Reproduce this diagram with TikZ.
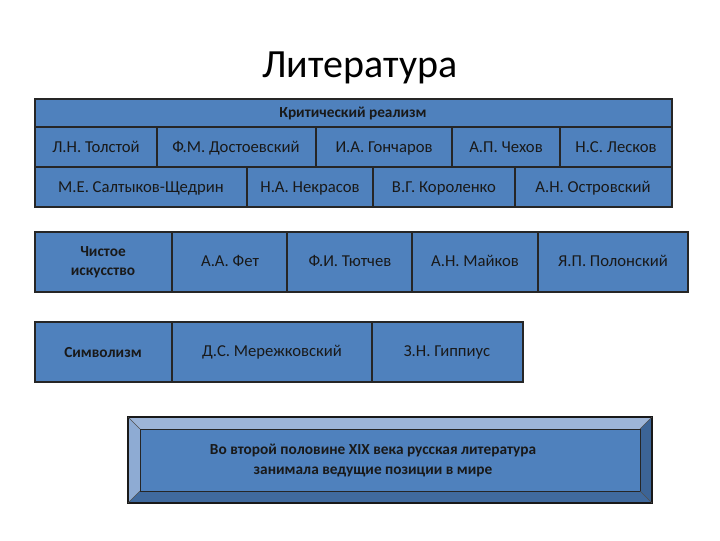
\documentclass[tikz,border=0pt]{standalone}
\usepackage{fontspec}
\setmainfont{Carlito}
\definecolor{cellblue}{HTML}{4F81BD}
\definecolor{bevlight}{HTML}{9DB5D8}
\definecolor{bevdark}{HTML}{3C6496}
\begin{document}
\begin{tikzpicture}[x=0.75pt,y=-0.75pt,
  cell/.style={draw=black!85,fill=cellblue,line width=0.8pt},
  lbl/.style={font=\fontsize{12.5pt}{14pt}\selectfont,text=black!90,align=center,text height=9pt,text depth=3pt}]
\useasboundingbox (0,0) rectangle (720,540);
\node[font=\fontsize{30pt}{34pt}\selectfont] (title) at (360,68) {Литература};
% box 1
\draw[cell] (35,99) rectangle (672,207);
\draw[black!85,line width=0.8pt] (35,127) -- (672,127) (35,167) -- (672,167);
\foreach \x in {157,316,452,560} \draw[black!85,line width=0.8pt] (\x,127) -- (\x,167);
\foreach \x in {247,373,515} \draw[black!85,line width=0.8pt] (\x,167) -- (\x,207);
\node[lbl,font=\bfseries\fontsize{11.5pt}{13pt}\selectfont] (h1) at (353,113) {Критический реализм};
\node[lbl] (a1) at (96,148) {Л.Н. Толстой};
\node[lbl] (a2) at (236,148) {Ф.М. Достоевский};
\node[lbl] (a3) at (384,148) {И.А. Гончаров};
\node[lbl] (a4) at (506,148) {А.П. Чехов};
\node[lbl] (a5) at (616,148) {Н.С. Лесков};
\node[lbl] (b1) at (141,188) {М.Е. Салтыков-Щедрин};
\node[lbl] (b2) at (310,188) {Н.А. Некрасов};
\node[lbl] (b3) at (444,188) {В.Г. Короленко};
\node[lbl] (b4) at (593,188) {А.Н. Островский};
% box 2
\draw[cell] (35,232) rectangle (688,292);
\foreach \x in {172,287,412,538} \draw[black!85,line width=0.8pt] (\x,232) -- (\x,292);
\node[lbl,text height=,text depth=,font=\bfseries\fontsize{11.5pt}{14pt}\selectfont] (c1) at (103,262) {Чистое\\искусство};
\node[lbl] (c2) at (230,262) {А.А. Фет};
\node[lbl] (c3) at (350,262) {Ф.И. Тютчев};
\node[lbl] (c4) at (475,262) {А.Н. Майков};
\node[lbl] (c5) at (613,262) {Я.П. Полонский};
% box 3
\draw[cell] (35,322) rectangle (523,382);
\foreach \x in {172,372} \draw[black!85,line width=0.8pt] (\x,322) -- (\x,382);
\node[lbl,font=\bfseries\fontsize{11.5pt}{13pt}\selectfont] (d1) at (103,353) {Символизм};
\node[lbl] (d2) at (272,352) {Д.С. Мережковский};
\node[lbl] (d3) at (447,352) {З.Н. Гиппиус};
% bevel box
\fill[bevlight] (128,417) -- (652,417) -- (640,429) -- (140,429) -- cycle;
\fill[bevlight!80!cellblue] (128,417) -- (140,429) -- (140,491) -- (128,503) -- cycle;
\fill[bevdark] (652,417) -- (652,503) -- (640,491) -- (640,429) -- cycle;
\fill[bevdark!80!cellblue] (128,503) -- (652,503) -- (640,491) -- (140,491) -- cycle;
\draw[draw=black!85,fill=cellblue,line width=0.6pt] (140,429) rectangle (640,491);
\draw[black!90,line width=0.8pt] (128,417) rectangle (652,503);
\draw[black!70,line width=0.4pt] (128,417) -- (140,429) (652,417) -- (640,429) (128,503) -- (140,491) (652,503) -- (640,491);
\node[lbl,text height=,text depth=,font=\bfseries\fontsize{11.5pt}{15pt}\selectfont] (e) at (373,460) {Во второй половине XIX века русская литература\\занимала ведущие позиции в мире};
\end{tikzpicture}
\end{document}
